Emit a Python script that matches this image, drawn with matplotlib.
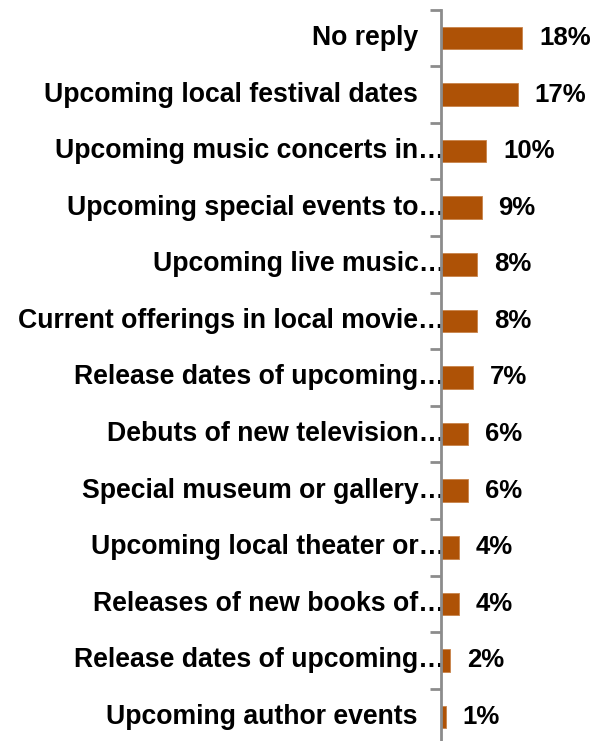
import matplotlib
matplotlib.use("Agg")
import matplotlib.pyplot as plt
from matplotlib.transforms import offset_copy
import numpy as np

categories = [
    "No reply",
    "Upcoming local festival dates",
    "Upcoming music concerts in\u2026",
    "Upcoming special events to\u2026",
    "Upcoming live music\u2026",
    "Current offerings in local movie\u2026",
    "Release dates of upcoming\u2026",
    "Debuts of new television\u2026",
    "Special museum or gallery\u2026",
    "Upcoming local theater or\u2026",
    "Releases of new books of\u2026",
    "Release dates of upcoming\u2026",
    "Upcoming author events",
]
values = [18, 17, 10, 9, 8, 8, 7, 6, 6, 4, 4, 2, 1]

plt.rcParams["font.family"] = ["Liberation Sans", "DejaVu Sans"]

W, H = 595, 741
fig = plt.figure(figsize=(W / 100, H / 100), dpi=100)
ax_left = 441 / W
ax_bottom = 1 - 745.3 / H
ax_height = 735.6 / H
ax = fig.add_axes([ax_left, ax_bottom, 1 - ax_left, ax_height])

n = len(categories)
ypos = np.arange(n)
bar_color = "#AE5206"
ax.barh(ypos, values, height=0.4, color=bar_color, edgecolor="#C8834A", linewidth=0.6)

ax.set_ylim(n - 0.5, -0.5)
px_per_unit = 4.5
ax.set_xlim(0, (W - 441) / px_per_unit)

for s in ["top", "right", "bottom"]:
    ax.spines[s].set_visible(False)
ax.spines["left"].set_color("#8C8C8C")
ax.spines["left"].set_linewidth(2)

ax.set_xticks([])
ax.set_yticks([])
ax.set_yticks(np.arange(-0.5, n, 1.0), minor=True)
ax.tick_params(axis="y", which="minor", length=8, width=2, color="#8C8C8C", labelleft=False)

# category labels to the left of the axis; truncated ones run up to the axis
for y, lab in zip(ypos, categories):
    off = 4 if lab.endswith("\u2026") else -23
    tr = offset_copy(ax.get_yaxis_transform(), fig=fig, x=off, y=0, units="dots")
    ax.text(0, y, lab, transform=tr, ha="right", va="center",
            fontsize=19.2, fontweight="bold", color="black", zorder=1)

# value labels after each bar
for y, v in zip(ypos, values):
    tr = offset_copy(ax.transData, fig=fig, x=17, y=0, units="dots")
    ax.text(v, y, f"{v}%", transform=tr, ha="left", va="center",
            fontsize=18.5, fontweight="bold", color="black")

fig.savefig("out.png", dpi=100)
